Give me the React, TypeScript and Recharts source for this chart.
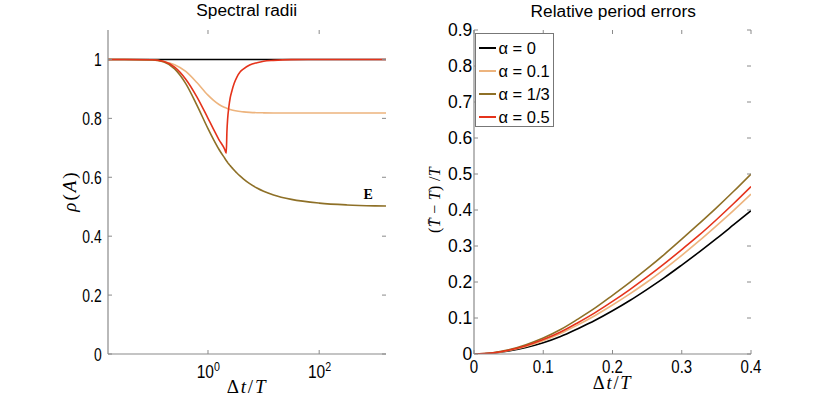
import React from 'react';
import { LineChart, Line, XAxis, YAxis, Legend } from 'recharts';

// ---------- Left panel: spectral radii (log x) ----------
const dtLog = [0.0159, 0.0316, 0.1, 0.158, 0.251, 0.398, 0.631, 1, 1.26, 1.58, 2.0, 2.13, 2.19, 2.26, 2.37, 2.51, 2.69, 2.95, 3.31, 3.8, 4.37, 5.62, 7.59, 10, 15.1, 31.6, 100, 316, 1000, 1591.5];
const rhoAlpha0 = [1, 1, 1, 1, 1, 1, 1, 1, 1, 1, 1, 1, 1, 1, 1, 1, 1, 1, 1, 1, 1, 1, 1, 1, 1, 1, 1, 1, 1, 1];
const rhoAlpha01 = [1, 1, 0.9982, 0.9927, 0.982, 0.9593, 0.9215, 0.8788, 0.861, 0.8471, 0.8371, 0.8349, 0.8341, 0.833, 0.8318, 0.8303, 0.8287, 0.8269, 0.8251, 0.8234, 0.822, 0.8204, 0.8193, 0.8188, 0.8184, 0.8181, 0.818, 0.818, 0.818, 0.818];
const rhoAlpha13 = [1, 1, 0.9985, 0.9918, 0.9682, 0.9181, 0.8451, 0.7652, 0.7279, 0.6943, 0.6646, 0.6568, 0.6537, 0.6497, 0.6447, 0.6396, 0.6327, 0.6244, 0.6143, 0.6036, 0.5937, 0.5783, 0.5635, 0.5525, 0.5399, 0.5249, 0.5123, 0.5061, 0.503, 0.5023];
const rhoAlpha05 = [1, 1, 0.999, 0.9938, 0.9742, 0.9331, 0.8731, 0.8002, 0.7629, 0.7273, 0.6946, 0.682, 0.755, 0.8, 0.838, 0.87, 0.893, 0.918, 0.94, 0.958, 0.968, 0.981, 0.989, 0.994, 0.997, 0.9995, 1, 1, 1, 1];

// ---------- Right panel: relative period errors ----------
const dtLin = [0, 0.025, 0.05, 0.075, 0.1, 0.125, 0.15, 0.175, 0.2, 0.225, 0.25, 0.275, 0.3, 0.325, 0.35, 0.375, 0.4];
const errAlpha0 = [0, 0.002, 0.0082, 0.0182, 0.0313, 0.0486, 0.0704, 0.0937, 0.12, 0.1486, 0.1797, 0.2122, 0.2471, 0.283, 0.3204, 0.3591, 0.398];
const errAlpha01 = [0, 0.0023, 0.0097, 0.021, 0.037, 0.057, 0.081, 0.107, 0.136, 0.167, 0.2, 0.236, 0.274, 0.314, 0.356, 0.399, 0.444];
const errAlpha13 = [0, 0.003, 0.0117, 0.026, 0.0444, 0.068, 0.097, 0.128, 0.163, 0.199, 0.237, 0.277, 0.319, 0.362, 0.406, 0.452, 0.5];
const errAlpha05 = [0, 0.0025, 0.0105, 0.023, 0.04, 0.061, 0.087, 0.115, 0.146, 0.179, 0.214, 0.251, 0.29, 0.33, 0.373, 0.418, 0.465];

const seriesKeys = ['a0', 'a01', 'a13', 'a05'];
const seriesNames = ['α = 0', 'α = 0.1', 'α = 1/3', 'α = 0.5'];
const seriesColors = ['#000000', '#EDB47E', '#8E7027', '#E5331B'];

const leftXTicks = [1, 100];
const leftXTickExps = ['0', '2'];
const leftYTicks = [0, 0.2, 0.4, 0.6, 0.8, 1];
const leftYTickLabels = ['0', '0.2', '0.4', '0.6', '0.8', '1'];
const rightXTicks = [0, 0.1, 0.2, 0.3, 0.4];
const rightXTickLabels = ['0', '0.1', '0.2', '0.3', '0.4'];
const rightYTicks = [0, 0.1, 0.2, 0.3, 0.4, 0.5, 0.6, 0.7, 0.8, 0.9];
const rightYTickLabels = ['0', '0.1', '0.2', '0.3', '0.4', '0.5', '0.6', '0.7', '0.8', '0.9'];

const leftData = dtLog.map((dt, i) => ({ dt, a0: rhoAlpha0[i], a01: rhoAlpha01[i], a13: rhoAlpha13[i], a05: rhoAlpha05[i] }));
const rightData = dtLin.map((dt, i) => ({ dt, a0: errAlpha0[i], a01: errAlpha01[i], a13: errAlpha13[i], a05: errAlpha05[i] }));

const AXIS = '#8a8a8a';
const SANS = '"Liberation Sans", Arial, sans-serif';
const SERIF = '"Liberation Serif", "Times New Roman", serif';
const CHART_W = 415;
const CHART_H = 399;
const X_AXIS_H = 45;
const TOP = 30;
const BOTTOM = CHART_H - X_AXIS_H;

// geometry (chart-local)
const L = { left: 108, right: 386 };
const R = { left: 59, right: 336 };

const makeYTick = (g: { left: number; right: number }, ticks: number[], labels: string[], textEnd: number, fs: number, sx: number, sy: number) => (p: any) => {
  const y = p.y;
  const idx = ticks.indexOf(p.payload.value);
  const label = idx >= 0 ? labels[idx] : String(p.payload.value);
  return (
    <g>
      <line x1={g.left} x2={g.left + 4} y1={y} y2={y} stroke={AXIS} strokeWidth={1} />
      <line x1={g.right - 4} x2={g.right} y1={y} y2={y} stroke={AXIS} strokeWidth={1} />
      <text transform={`translate(${textEnd},${y + 0.358 * fs * sy}) scale(${sx},${sy})`} textAnchor="end" fontFamily={SANS} fontSize={fs} fill="#000">
        {label}
      </text>
    </g>
  );
};

const makeXTick = (ticks: number[], labels: string[], baseline: number, fs: number, sx: number, sy: number) => (p: any) => {
  const x = p.x;
  const idx = ticks.indexOf(p.payload.value);
  const label = idx >= 0 ? labels[idx] : String(p.payload.value);
  return (
    <g>
      <line x1={x} x2={x} y1={BOTTOM} y2={BOTTOM - 4} stroke={AXIS} strokeWidth={1} />
      <line x1={x} x2={x} y1={TOP} y2={TOP + 4} stroke={AXIS} strokeWidth={1} />
      <text transform={`translate(${x},${baseline}) scale(${sx},${sy})`} textAnchor="middle" fontFamily={SANS} fontSize={fs} fill="#000">
        {label}
      </text>
    </g>
  );
};

const LeftXTick = (p: any) => {
  const x = p.x;
  const idx = leftXTicks.indexOf(p.payload.value);
  const exp = idx >= 0 ? leftXTickExps[idx] : '';
  return (
    <g>
      <line x1={x} x2={x} y1={BOTTOM} y2={BOTTOM - 4} stroke={AXIS} strokeWidth={1} />
      <line x1={x} x2={x} y1={TOP} y2={TOP + 4} stroke={AXIS} strokeWidth={1} />
      <text transform={`translate(${x + 0.3},378.3) scale(0.97,1.1)`} textAnchor="middle" fontFamily={SANS} fontSize={16} fill="#000">
        10
        <tspan fontSize={11} dy={-7}>{exp}</tspan>
      </text>
    </g>
  );
};

const LeftYTick = makeYTick(L, leftYTicks, leftYTickLabels, 101.7, 16, 0.87, 1.14);
const RightYTick = makeYTick(R, rightYTicks, rightYTickLabels, 57.3, 17.5, 1, 1);
const RightXTick = makeXTick(rightXTicks, rightXTickLabels, 373.3, 16, 0.94, 1.16);

const LegendBox = (props: any) => {
  const payload = [...(props.payload || [])].sort((a: any, b: any) => seriesNames.indexOf(a.value) - seriesNames.indexOf(b.value));
  return (
    <div style={{ boxSizing: 'border-box', width: 79, height: 94, border: '1px solid #777', background: '#fff', paddingTop: 2.5 }}>
      {payload.map((e: any) => (
        <div key={e.value} style={{ height: 22.9, display: 'flex', alignItems: 'center' }}>
          <div style={{ marginLeft: 2.7, width: 17, height: 0, borderTop: `2px solid ${e.color}` }} />
          <span style={{ marginLeft: 2.5, fontSize: 16.5, fontFamily: SANS, color: '#000', lineHeight: 1, whiteSpace: 'nowrap' }}>{e.value}</span>
        </div>
      ))}
    </div>
  );
};

const lines = () =>
  seriesKeys.map((k, i) => (
    <Line
      key={k}
      type="monotone"
      dataKey={k}
      name={seriesNames[i]}
      stroke={seriesColors[i]}
      strokeWidth={1.6}
      dot={false}
      activeDot={false}
      isAnimationActive={false}
    />
  ));

export default function App() {
  return (
    <div style={{ position: 'absolute', left: 0, top: 0, width: 830, height: 399, background: '#fff', overflow: 'hidden' }}>
      <div style={{ position: 'absolute', left: 0, top: 0 }}>
        <LineChart width={CHART_W} height={CHART_H} data={leftData} margin={{ top: TOP, right: CHART_W - L.right, bottom: 0, left: 0 }}>
          <XAxis
            dataKey="dt"
            type="number"
            scale="log"
            domain={[0.0159, 1591.5]}
            ticks={leftXTicks}
            allowDataOverflow
            height={X_AXIS_H}
            tickLine={false}
            axisLine={{ stroke: AXIS, strokeWidth: 1.2 }}
            tick={LeftXTick}
            interval={0}
          />
          <XAxis xAxisId="top" orientation="top" type="number" domain={[0, 1]} height={0} tick={false} tickLine={false} axisLine={{ stroke: AXIS, strokeWidth: 1.2 }} />
          <YAxis
            type="number"
            domain={[0, 1.1]}
            ticks={leftYTicks}
            allowDataOverflow
            width={L.left}
            tickLine={false}
            axisLine={{ stroke: AXIS, strokeWidth: 1.2 }}
            tick={LeftYTick}
            interval={0}
          />
          <YAxis yAxisId="right" orientation="right" type="number" domain={[0, 1]} width={0} tick={false} tickLine={false} axisLine={{ stroke: AXIS, strokeWidth: 1.2 }} />
          {lines()}
        </LineChart>
      </div>
      <div style={{ position: 'absolute', left: CHART_W, top: 0 }}>
        <LineChart width={CHART_W} height={CHART_H} data={rightData} margin={{ top: TOP, right: CHART_W - R.right, bottom: 0, left: 0 }}>
          <XAxis
            dataKey="dt"
            type="number"
            domain={[0, 0.4]}
            ticks={rightXTicks}
            allowDataOverflow
            height={X_AXIS_H}
            tickLine={false}
            axisLine={{ stroke: AXIS, strokeWidth: 1.2 }}
            tick={RightXTick}
            interval={0}
          />
          <XAxis xAxisId="top" orientation="top" type="number" domain={[0, 1]} height={0} tick={false} tickLine={false} axisLine={{ stroke: AXIS, strokeWidth: 1.2 }} />
          <YAxis
            type="number"
            domain={[0, 0.9]}
            ticks={rightYTicks}
            allowDataOverflow
            width={R.left}
            tickLine={false}
            axisLine={{ stroke: AXIS, strokeWidth: 1.2 }}
            tick={RightYTick}
            interval={0}
          />
          <YAxis yAxisId="right" orientation="right" type="number" domain={[0, 1]} width={0} tick={false} tickLine={false} axisLine={{ stroke: AXIS, strokeWidth: 1.2 }} />
          {lines()}
          <Legend
            layout="horizontal"
            verticalAlign="middle"
            align="center"
            itemSorter={(item: any) => seriesNames.indexOf(item.value)}
            content={LegendBox}
            wrapperStyle={{ position: 'absolute', left: 60.3, top: 33.3, width: 79, height: 94, margin: 0, padding: 0 }}
          />
        </LineChart>
      </div>
      <svg width={830} height={399} style={{ position: 'absolute', left: 0, top: 0, pointerEvents: 'none' }}>
        <text x={246.7} y={16} textAnchor="middle" fontFamily={SANS} fontSize={17.3} fill="#000">Spectral radii</text>
        <text x={613.2} y={16.5} textAnchor="middle" fontFamily={SANS} fontSize={17.3} fill="#000">Relative period errors</text>
        <text x={247} y={393} textAnchor="middle" fontFamily={SERIF} fontSize={19} letterSpacing={1.8} fill="#000">
          Δ<tspan fontStyle="italic">t</tspan>/<tspan fontStyle="italic">T</tspan>
        </text>
        <text x={612.6} y={389} textAnchor="middle" fontFamily={SERIF} fontSize={18.5} letterSpacing={1.8} fill="#000">
          Δ<tspan fontStyle="italic">t</tspan>/<tspan fontStyle="italic">T</tspan>
        </text>
        <text transform="translate(76,191) rotate(-90)" textAnchor="middle" fontFamily={SERIF} fontSize={19} letterSpacing={2} fill="#000">
          <tspan fontStyle="italic">ρ</tspan>(<tspan fontStyle="italic">A</tspan>)
        </text>
        <text transform="translate(440,200) rotate(-90)" textAnchor="middle" fontFamily={SERIF} fontSize={16} letterSpacing={0.3} fill="#000">
          (<tspan fontStyle="italic">T̄</tspan> − <tspan fontStyle="italic">T</tspan>) /<tspan fontStyle="italic">T</tspan>
        </text>
        <text x={368.2} y={199.3} textAnchor="middle" fontFamily={SERIF} fontWeight="bold" fontSize={14} fill="#000">E</text>
      </svg>
    </div>
  );
}
